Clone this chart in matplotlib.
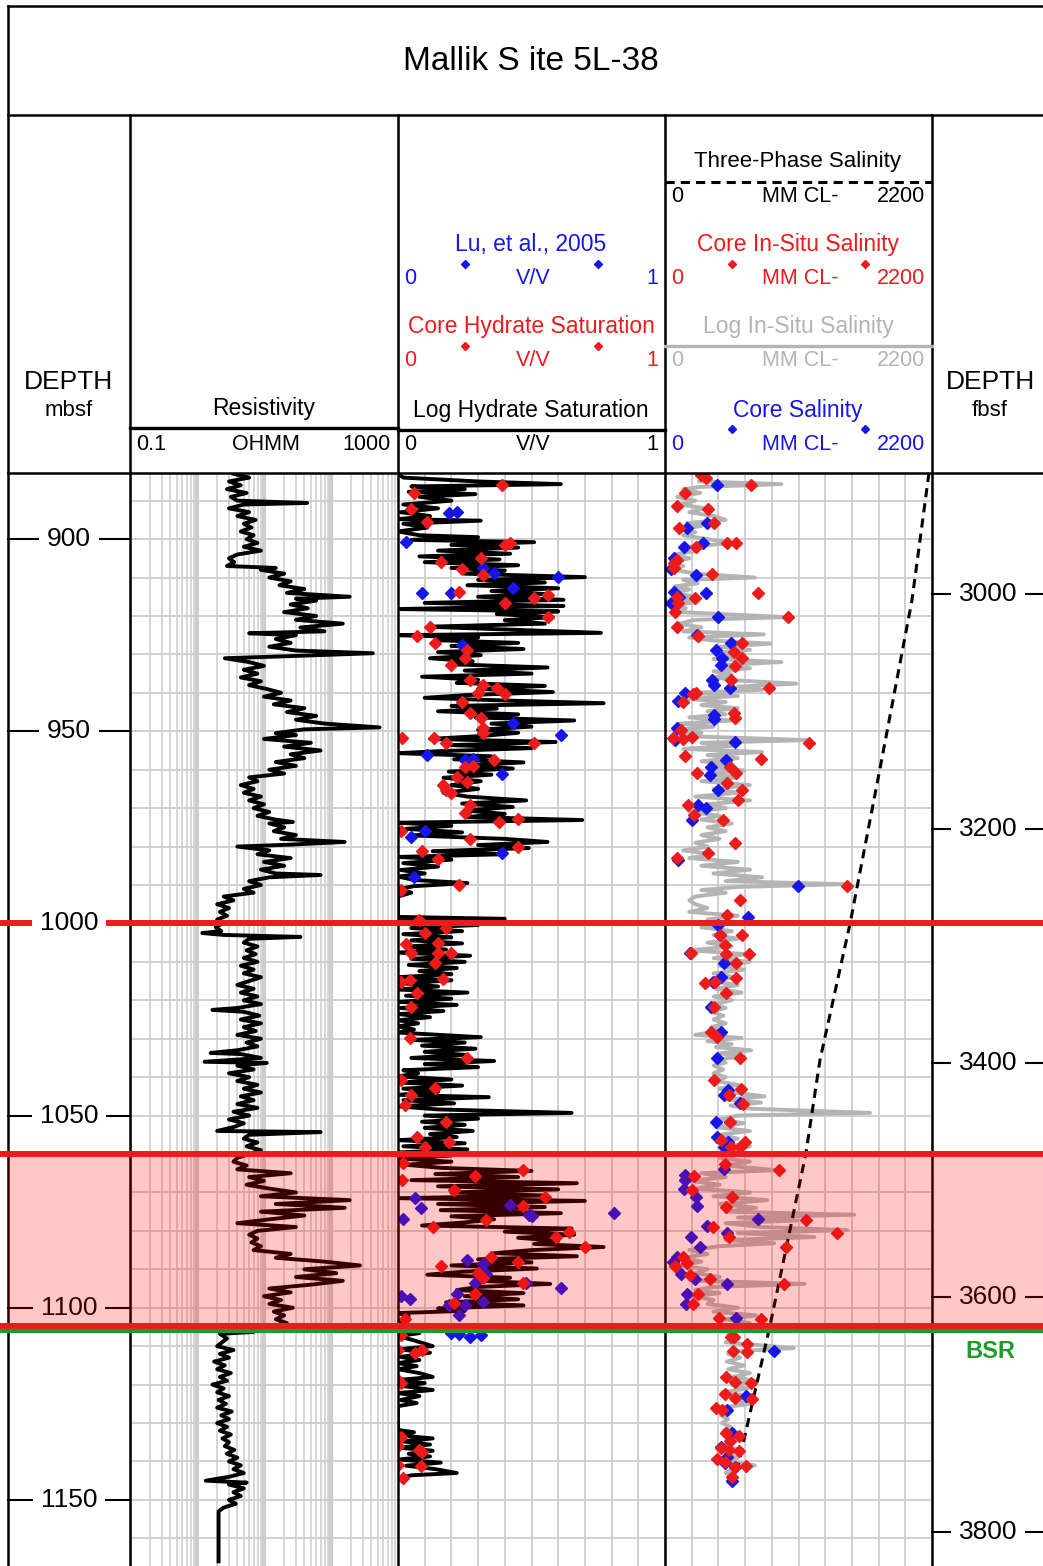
import numpy as np
import matplotlib.pyplot as plt

W, H = 1043, 1566
DATA_TOP = 473                       # px where the log tracks start
TOP_DEPTH, BOTTOM_DEPTH = 882.8, 1167.2

RED = '#ec1c1c'
BLUE = '#1616e8'
GRAY = '#b4b4b4'
GRID = '#cdcdcd'
GREEN = '#1f9a2c'

plt.rcParams['font.family'] = ['Liberation Sans', 'DejaVu Sans']

# ---- data (depth in mbsf) ----
resistivity = [
    (883, 3.5), (884, 6.0), (885, 3.0), (886, 4.5), (887, 2.8), (888, 5.5), (889, 3.2), (890, 4.0),
    (890.6, 44), (891, 5.0), (892, 3.0), (893, 6.0), (894, 4.0), (895, 7.5), (896, 5.0), (897, 6.5),
    (898, 4.5), (899, 7.0), (900, 5.5), (901, 8.0), (902, 5.0), (903, 9.0), (904, 4.0), (905, 3.0),
    (906, 3.6), (907, 2.8), (907.5, 15), (908, 9), (909, 20), (910, 12), (911, 25), (912, 17),
    (913, 40), (914, 22), (915, 190), (915.5, 30), (916, 60), (917, 25), (918, 45), (919, 20),
    (920, 60), (921, 30), (922, 150), (923, 35), (924, 80), (924.5, 6), (925, 30), (926, 15),
    (927, 25), (928, 12), (929, 30), (929.7, 420), (930.5, 20), (931, 2.6), (932, 6), (933, 10),
    (934, 5), (935, 8), (936, 4.5), (937, 9), (938, 6), (939, 11), (940, 18), (941, 10),
    (942, 25), (943, 14), (944, 40), (945, 22), (946, 60), (947, 30), (948, 80), (949, 530),
    (949.5, 40), (950.5, 15), (951, 30), (952, 10), (953, 50), (954, 20), (955, 70), (956, 25),
    (957, 40), (958, 15), (959, 30), (960, 12), (961, 20), (962, 6), (963, 8), (964, 4.5),
    (965, 7), (966, 5), (967, 9), (968, 6), (969, 10), (970, 7), (971, 12), (972, 8),
    (973, 15), (973.6, 27), (974, 12), (975, 20), (976, 14), (977, 30), (978, 18), (978.8, 160),
    (979.5, 25), (980, 4.0), (981, 12), (982, 8), (983, 25), (984, 10), (985, 20), (986, 9),
    (987, 15), (987.4, 70), (988, 12), (989, 6), (990, 9), (991, 5), (992, 7), (993, 2.5),
    (994, 3.5), (995, 2.0), (996, 3.0), (997, 2.2), (998, 2.8), (999, 2.0), (1000, 2.4), (1001, 1.9),
    (1002, 2.3), (1002.5, 1.2), (1003, 2.5), (1003.5, 35), (1004, 6), (1005, 5), (1006, 8), (1007, 5.5),
    (1008, 7.5), (1009, 5), (1010, 8), (1011, 4.5), (1012, 7), (1013, 5), (1014, 9), (1015, 6),
    (1016, 4), (1017, 7), (1018, 4.5), (1019, 8), (1020, 5), (1021, 9), (1022, 4), (1022.5, 1.7),
    (1023, 5), (1024, 8.5), (1025, 4.5), (1026, 9), (1027, 5), (1028, 7.5), (1029, 4), (1030, 9),
    (1031, 5.5), (1032, 8), (1033, 4), (1033.7, 1.6), (1034, 4.5), (1035, 9), (1036, 1.3), (1036.3, 11),
    (1037, 4), (1038, 7), (1039, 3), (1040, 6), (1041, 4), (1042, 8), (1043, 5), (1044, 9),
    (1045, 4.5), (1046, 7), (1047, 4), (1048, 8), (1049, 3.5), (1050, 6), (1051, 3), (1052, 5),
    (1053, 3.5), (1054, 2.0), (1054.3, 70), (1055, 6), (1056, 5), (1057, 8), (1058, 5.5), (1059, 9),
    (1060, 6), (1061, 4), (1062, 3.5), (1063, 5.5), (1064, 4), (1065, 25), (1066, 6), (1067, 10),
    (1068, 5.5), (1069, 12), (1070, 30), (1071, 9), (1072, 190), (1073, 15), (1074, 160), (1075, 9),
    (1076, 40), (1077, 12), (1078, 4.0), (1079, 30), (1080, 8), (1081, 6), (1082, 8), (1083, 6.5),
    (1084, 9), (1085, 7), (1086, 25), (1087, 15), (1088, 80), (1089, 270), (1090, 40), (1091, 120),
    (1092, 30), (1093, 150), (1094, 50), (1095, 12), (1096, 25), (1097, 10), (1098, 18), (1099, 12),
    (1100, 27), (1101, 14), (1102, 20), (1103, 15), (1104, 22), (1105, 12), (1106, 7), (1106.3, 7),
    (1106.8, 2.2), (1108, 2.8), (1110, 2.0), (1111, 3.5), (1112, 2.2), (1113, 3.0), (1114, 1.8), (1115, 2.6),
    (1116, 2.0), (1117, 3.2), (1118, 2.2), (1119, 2.8), (1120, 1.7), (1121, 2.5), (1122, 2.0), (1123, 3.0),
    (1124, 2.1), (1125, 2.7), (1126, 2.0), (1127, 3.3), (1128, 2.3), (1129, 3.0), (1130, 2.0), (1131, 2.8),
    (1132, 2.2), (1133, 3.2), (1134, 2.4), (1135, 3.0), (1136, 2.6), (1137, 3.6), (1138, 2.8), (1139, 4.0),
    (1140, 3.0), (1141, 4.5), (1142, 3.5), (1143, 5.0), (1144, 3.0), (1145, 1.35), (1145.5, 5.5), (1146, 3.0),
    (1147, 5.0), (1148, 3.5), (1149, 4.5), (1150, 3.0), (1151, 3.8), (1152, 2.5), (1153, 2.1), (1166, 2.1),
]

log_saturation = [
    (883, 0.0), (884, 0.02), (885, 0.3), (885.7, 0.61), (886.3, 0.05), (887, 0.25), (887.7, 0.04), (888.3, 0.29),
    (889, 0.08), (890, 0.2), (891, 0.02), (892, 0.15), (893, 0.01), (894, 0.12), (894.8, 0.0), (895.2, 0.31),
    (896, 0.02), (897, 0.11), (898, 0.0), (899, 0.08), (899.5, 0.3), (900.2, 0.05), (900.8, 0.51), (901.5, 0.2),
    (902.2, 0.45), (903, 0.15), (903.8, 0.42), (904.5, 0.08), (905.3, 0.38), (906, 0.1), (906.8, 0.45), (907.5, 0.2),
    (908.2, 0.4), (909, 0.25), (909.9, 0.70), (910.6, 0.3), (911.3, 0.55), (912, 0.26), (912.8, 0.6), (913.5, 0.35),
    (914.3, 0.55), (915, 0.3), (915.8, 0.62), (916.6, 0.1), (917.4, 0.62), (918.2, 0.0), (918.8, 0.6), (919.5, 0.37),
    (920.3, 0.58), (921.1, 0.4), (922, 0.55), (922.8, 0.11), (923.6, 0.43), (924.4, 0.76), (925, 0.0), (925.6, 0.3),
    (926.3, 0.14), (927, 0.45), (927.8, 0.2), (928.6, 0.47), (929.4, 0.15), (930.2, 0.31), (931, 0.12), (931.8, 0.28),
    (932.6, 0.21), (933.4, 0.56), (934.2, 0.25), (935, 0.5), (935.8, 0.09), (936.6, 0.3), (937.4, 0.22), (938.2, 0.55),
    (939, 0.3), (939.8, 0.58), (940.6, 0.25), (941.3, 0.1), (942, 0.4), (942.7, 0.77), (943.4, 0.2), (944.1, 0.37),
    (944.8, 0.15), (945.6, 0.45), (946.4, 0.29), (947.2, 0.66), (948, 0.35), (948.8, 0.5), (949.6, 0.3), (950.4, 0.45),
    (951.2, 0.32), (952, 0.12), (952.8, 0.59), (953.6, 0.2), (954.4, 0.5), (955.2, 0.15), (955.7, 0.0), (956.5, 0.35),
    (957.3, 0.21), (958.1, 0.47), (958.9, 0.25), (959.7, 0.43), (960.5, 0.19), (961.3, 0.35), (962.1, 0.17), (963, 0.31),
    (964, 0.2), (965, 0.3), (966, 0.17), (967, 0.26), (968, 0.48), (968.8, 0.24), (969.7, 0.43), (970.6, 0.25),
    (971.5, 0.4), (972.3, 0.26), (973.1, 0.69), (973.8, 0.0), (974.6, 0.2), (975.4, 0.03), (976.3, 0.24), (977.1, 0.05),
    (978, 0.4), (978.8, 0.56), (979.6, 0.3), (980.4, 0.49), (981.2, 0.13), (982, 0.4), (982.7, 0.0), (983.4, 0.2),
    (984.3, 0.02), (985.2, 0.15), (986.1, 0.01), (987, 0.1), (987.8, 0.0), (988.7, 0.06), (989.5, 0.26), (990.3, 0.06),
    (991.1, 0.0), (992, 0.05), (993, 0.0), (998.3, 0.0), (998.8, 0.4), (999.4, 0.0), (1000.4, 0.3), (1001.2, 0.05),
    (1002, 0.24), (1002.8, 0.02), (1003.6, 0.2), (1004.4, 0.05), (1005.2, 0.24), (1006, 0.03), (1006.8, 0.18), (1007.6, 0.0),
    (1008.4, 0.27), (1009.2, 0.05), (1010, 0.25), (1010.8, 0.04), (1011.6, 0.22), (1012.4, 0.08), (1013.2, 0.2), (1014, 0.0),
    (1014.8, 0.2), (1015.6, 0.02), (1016.4, 0.15), (1017.2, 0.0), (1018, 0.26), (1018.8, 0.03), (1019.6, 0.2), (1020.4, 0.0),
    (1021.2, 0.22), (1022, 0.01), (1022.8, 0.17), (1023.6, 0.0), (1024.4, 0.12), (1025.2, 0.0), (1026, 0.075), (1026.8, 0.0),
    (1027.6, 0.06), (1028.4, 0.0), (1029.6, 0.31), (1030.3, 0.05), (1031, 0.25), (1031.8, 0.09), (1032.6, 0.29), (1033.4, 0.1),
    (1034.2, 0.25), (1035, 0.05), (1035.8, 0.36), (1036.6, 0.1), (1037.4, 0.3), (1038.2, 0.02), (1039, 0.075), (1039.8, 0.0),
    (1040.6, 0.2), (1041.4, 0.0), (1042.2, 0.24), (1043, 0.02), (1043.8, 0.15), (1044.6, 0.0), (1045.2, 0.34), (1046, 0.02),
    (1046.8, 0.21), (1047.6, 0.0), (1048.4, 0.15), (1049.3, 0.65), (1050, 0.1), (1050.8, 0.3), (1051.6, 0.09), (1052.4, 0.25),
    (1053.2, 0.1), (1054, 0.28), (1054.8, 0.12), (1055.6, 0.22), (1056.4, 0.0), (1057.2, 0.25), (1058, 0.02), (1058.8, 0.26),
    (1059.6, 0.0), (1060.4, 0.2), (1061.2, 0.01), (1062, 0.2), (1062.8, 0.03), (1063.6, 0.16), (1064.4, 0.5), (1065.2, 0.14),
    (1066, 0.45), (1066.8, 0.05), (1067.6, 0.67), (1068.4, 0.15), (1069.2, 0.6), (1070, 0.2), (1070.8, 0.55), (1071.5, 0.0),
    (1072.2, 0.7), (1073, 0.15), (1073.8, 0.55), (1074.6, 0.16), (1075.4, 0.61), (1076.2, 0.2), (1077, 0.36), (1077.8, 0.25),
    (1078.6, 0.09), (1079.4, 0.65), (1080.2, 0.4), (1081, 0.66), (1081.8, 0.45), (1082.6, 0.6), (1083.4, 0.51), (1084.2, 0.77),
    (1085, 0.5), (1085.8, 0.36), (1086.6, 0.67), (1087.4, 0.3), (1088.2, 0.5), (1089, 0.2), (1089.8, 0.52), (1090.6, 0.25),
    (1091.4, 0.11), (1092.2, 0.42), (1093, 0.31), (1093.8, 0.57), (1094.6, 0.3), (1095.4, 0.22), (1096.2, 0.47), (1097, 0.25),
    (1097.8, 0.45), (1098.6, 0.18), (1099.4, 0.47), (1100.2, 0.15), (1100.8, 0.25), (1101.4, 0.0), (1102.2, 0.04), (1103.5, 0.0),
    (1104.5, 0.03), (1105.5, 0.0), (1106.6, 0.08), (1107.4, 0.0), (1108.5, 0.06), (1110, 0.13), (1110.8, 0.0), (1111.7, 0.12),
    (1112.8, 0.01), (1113.6, 0.08), (1114.4, 0.0), (1115.2, 0.07), (1116, 0.0), (1117, 0.08), (1118, 0.13), (1118.8, 0.0),
    (1119.6, 0.1), (1120.4, 0.02), (1121.4, 0.13), (1122.2, 0.0), (1123, 0.08), (1124, 0.01), (1124.8, 0.07), (1125.6, 0.0),
    (1131.8, 0.0), (1132.4, 0.06), (1133.2, 0.0), (1134, 0.13), (1134.8, 0.02), (1135.6, 0.12), (1136.4, 0.0), (1137.2, 0.13),
    (1138, 0.04), (1138.7, 0.12), (1139.5, 0.0), (1140.3, 0.16), (1141.1, 0.03), (1142, 0.14), (1143, 0.22), (1143.6, 0.05),
    (1144.5, 0.0),
]

core_saturation = [
    (886, 0.39), (888, 0.06), (892.2, 0.05), (895.6, 0.11), (901.6, 0.40), (901, 0.42), (905, 0.31), (906, 0.16),
    (907.8, 0.24), (909.4, 0.32), (913.8, 0.23), (914.6, 0.56), (915.3, 0.51), (916.6, 0.40), (920.3, 0.56), (922.9, 0.12),
    (925.2, 0.07), (927, 0.14), (928.9, 0.26), (931, 0.25), (932.8, 0.2), (936.7, 0.27), (938, 0.32), (938.8, 0.37),
    (940, 0.3), (940.3, 0.40), (942.4, 0.24), (945.3, 0.27), (946.6, 0.31), (949.2, 0.32), (950.5, 0.32), (951.8, 0.015),
    (951.8, 0.135), (953, 0.18), (953, 0.51), (957.5, 0.36), (959, 0.28), (959.3, 0.25), (962, 0.22), (963.2, 0.26),
    (964, 0.17), (965.3, 0.18), (966, 0.2), (969.2, 0.27), (971.3, 0.25), (973.6, 0.38), (972.8, 0.45), (976, 0.01),
    (978, 0.27), (980.1, 0.45), (981.2, 0.09), (983.2, 0.15), (990, 0.23), (991.3, 0.01), (999.1, 0.08), (1001.2, 0.18),
    (1002.5, 0.10), (1005.1, 0.15), (1005.4, 0.03), (1007.7, 0.05), (1007.7, 0.15), (1007.7, 0.2), (1010.3, 0.14), (1014.7, 0.044),
    (1014.5, 0.17), (1015.2, 0.01), (1018.1, 0.07), (1021.7, 0.05), (1029.8, 0.044), (1035, 0.26), (1040.7, 0.01), (1042.8, 0.14),
    (1044.6, 0.05), (1047.2, 0.025), (1051.7, 0.18), (1055.6, 0.07), (1056.9, 0.19), (1058.2, 0.1), (1062.3, 0.02), (1064.2, 0.47),
    (1065.7, 0.29), (1066.8, 0.015), (1069.4, 0.21), (1071.2, 0.55), (1073.6, 0.47), (1077.2, 0.33), (1079, 0.13), (1080.3, 0.64),
    (1081.6, 0.59), (1084.2, 0.70), (1086.8, 0.35), (1088.1, 0.45), (1089.1, 0.16), (1090.9, 0.30), (1092.2, 0.32), (1093.5, 0.47),
    (1096.3, 0.29), (1098.8, 0.21), (1102.9, 0.025), (1107, 0.01), (1111, 0.09), (1111.7, 0.065), (1111, 0.0), (1118.8, 0.0),
    (1119.6, 0.01), (1133.6, 0.01), (1136, 0.0), (1137, 0.08), (1137.5, 0.09), (1140.9, 0.0), (1141.2, 0.086), (1144.3, 0.02),
]

lu_saturation = [
    (893.2, 0.19), (893, 0.22), (900.8, 0.03), (907.5, 0.32), (908.8, 0.36), (909.9, 0.60), (912.7, 0.43), (914, 0.09),
    (914, 0.20), (927.6, 0.24), (947.9, 0.43), (951, 0.61), (956.2, 0.11), (957.2, 0.28), (957.5, 0.25), (961.1, 0.39),
    (976, 0.10), (977.5, 0.05), (981.7, 0.39), (987.9, 0.06), (1071.4, 0.065), (1074, 0.085), (1073.3, 0.42), (1075.8, 0.49),
    (1076.1, 0.50), (1075.3, 0.81), (1076.8, 0.02), (1087.6, 0.26), (1088.6, 0.32), (1091.2, 0.33), (1093.5, 0.29), (1093.5, 0.48),
    (1094.8, 0.61), (1096.3, 0.22), (1096.9, 0.01), (1097.8, 0.044), (1098.6, 0.32), (1099.4, 0.19), (1099.4, 0.25), (1101.8, 0.23),
    (1106.9, 0.23), (1107.6, 0.27), (1107, 0.31), (1106.6, 0.2),
]

log_insitu_salinity = [
    (883, 300), (884, 350), (885, 280), (885.7, 960), (886.4, 300), (887, 150), (888, 290), (889, 100),
    (890, 250), (891, 130), (892, 330), (893, 200), (894, 400), (895, 500), (895.8, 180), (896.6, 300),
    (897.4, 120), (898.2, 250), (899, 150), (900, 350), (901, 560), (902, 200), (903, 270), (904, 80),
    (905, 200), (906, 50), (907, 150), (908, 80), (909, 250), (910, 740), (910.6, 150), (911.5, 270),
    (912.3, 80), (913.1, 200), (914, 60), (914.8, 220), (915.6, 100), (916.4, 250), (917.2, 80), (918, 170),
    (919, 120), (920.3, 1000), (921, 250), (922, 120), (923, 300), (924, 150), (924.8, 815), (925.6, 200),
    (926.4, 400), (927.2, 870), (928, 450), (928.8, 700), (929.6, 420), (930.4, 650), (931.2, 400), (932, 960),
    (932.8, 450), (933.6, 700), (934.4, 400), (935.2, 550), (936, 400), (936.8, 600), (937.6, 1080), (938.4, 600),
    (939.2, 800), (940, 250), (940.8, 600), (941.6, 200), (942.4, 500), (943.2, 300), (944, 600), (944.8, 350),
    (945.6, 500), (946.4, 200), (947.2, 550), (948, 120), (948.8, 400), (949.6, 100), (950.4, 300), (951.2, 100),
    (952.3, 1170), (953, 300), (953.8, 550), (954.6, 150), (955.4, 800), (956.2, 350), (957, 600), (957.8, 300),
    (958.6, 550), (959.4, 400), (960.2, 650), (961, 350), (962, 600), (963, 300), (964, 700), (965, 400),
    (966, 600), (967, 250), (968, 700), (969, 350), (970, 500), (971, 200), (972, 450), (973, 300),
    (974, 550), (975, 350), (976, 500), (977, 300), (978, 450), (979, 250), (980, 350), (981, 150),
    (982, 400), (983, 200), (984, 600), (985, 300), (986, 700), (987, 400), (988, 800), (989, 500),
    (989.8, 1480), (990.5, 600), (991.3, 300), (992, 500), (993, 250), (994, 200), (995, 250), (996, 350),
    (997, 200), (998, 600), (999, 350), (1000, 450), (1001, 300), (1002, 550), (1003, 400), (1004, 600),
    (1005, 350), (1006, 550), (1007, 200), (1008, 680), (1009, 400), (1010, 700), (1011, 450), (1012, 650),
    (1013, 400), (1014, 570), (1015, 380), (1016, 600), (1017, 420), (1018, 630), (1019, 400), (1020, 550),
    (1021, 400), (1022, 500), (1023, 380), (1024, 480), (1025, 400), (1026, 500), (1027, 380), (1028, 450),
    (1029, 250), (1029.8, 630), (1030.6, 350), (1031.4, 550), (1032.2, 420), (1033, 710), (1033.8, 450), (1034.6, 650),
    (1035.4, 420), (1036.2, 500), (1037, 400), (1038, 480), (1039, 400), (1040, 500), (1041, 420), (1042, 600),
    (1043, 450), (1044, 560), (1045, 820), (1045.8, 500), (1046.6, 790), (1047.4, 540), (1048.2, 700), (1049.3, 1690),
    (1050, 600), (1051, 450), (1052, 650), (1053, 420), (1054, 700), (1055, 450), (1056, 600), (1057, 430),
    (1058, 700), (1059, 540), (1060, 650), (1061, 450), (1062, 700), (1063, 500), (1064.2, 920), (1065, 300),
    (1066, 500), (1067, 210), (1068, 450), (1069, 250), (1070, 700), (1071, 400), (1072, 840), (1073, 450),
    (1074, 750), (1075, 500), (1075.8, 1560), (1076.5, 600), (1077.3, 1090), (1078, 500), (1079, 800), (1079.8, 1500),
    (1080.6, 600), (1081.6, 1230), (1082.4, 500), (1083.2, 900), (1084, 450), (1085, 200), (1086, 350), (1087, 150),
    (1088, 300), (1089, 120), (1090, 350), (1091, 250), (1092, 450), (1093, 300), (1093.8, 1150), (1094.6, 400),
    (1095.4, 250), (1096.2, 450), (1097, 230), (1098, 400), (1099, 350), (1100, 600), (1101, 400), (1102, 750),
    (1103, 500), (1104, 700), (1105, 550), (1106, 600), (1107, 520), (1108, 600), (1109, 500), (1110.5, 1060),
    (1111.3, 600), (1112, 520), (1113, 620), (1114, 510), (1115, 650), (1116, 520), (1117, 700), (1118, 560),
    (1119, 740), (1120, 550), (1121, 680), (1122, 470), (1123, 720), (1124, 550), (1125, 700), (1126, 470),
    (1127, 500), (1128, 460), (1129, 520), (1130, 470), (1131, 540), (1132, 480), (1133, 600), (1134, 520),
    (1135, 560), (1136, 480), (1137, 620), (1138, 500), (1139, 600), (1140, 520), (1141, 740), (1142, 550),
    (1143, 500), (1144, 560), (1145, 520),
]

core_insitu_salinity = [
    (883.4, 300), (884, 340), (886, 710), (888, 165), (891.4, 100), (892.2, 355), (895.8, 400), (897.1, 115),
    (901, 510), (901, 585), (902, 255), (905.5, 100), (906.2, 75), (907.5, 75), (909.1, 385), (914, 765),
    (915, 100), (915.3, 245), (916.6, 110), (919, 80), (920.3, 1015), (922.9, 100), (925.2, 270), (927, 635),
    (929.4, 570), (931, 635), (933, 575), (936.7, 545), (938.8, 855), (940, 255), (940.3, 230), (942.4, 150),
    (945.3, 570), (946.6, 575), (949.7, 130), (951.8, 65), (952, 150), (951.5, 220), (953, 1185), (956.5, 165),
    (957.2, 790), (959.3, 535), (960.9, 264), (960.9, 585), (963.5, 510), (965.3, 635), (967.9, 600), (969.2, 190),
    (971.8, 240), (973.1, 480), (979.1, 575), (981.7, 355), (983, 100), (990.3, 1500), (993.9, 620), (997.8, 510),
    (1003, 455), (1003, 635), (1005.6, 495), (1007.7, 215), (1008, 500), (1008, 690), (1010.3, 585), (1014.2, 585),
    (1015.2, 410), (1015.5, 330), (1018.1, 500), (1021.7, 400), (1028.2, 380), (1029.6, 430), (1035, 620), (1040.7, 400),
    (1043, 625), (1044.6, 525), (1047, 640), (1051.7, 535), (1056.3, 460), (1056.9, 660), (1058.2, 545), (1058.2, 620),
    (1062.6, 495), (1064.2, 940), (1065.7, 240), (1069.4, 220), (1071.2, 550), (1073.8, 500), (1077.2, 1160), (1079, 395),
    (1080.5, 1415), (1081.6, 525), (1084.2, 995), (1086.8, 150), (1088.3, 180), (1089.1, 80), (1091.5, 205), (1092.5, 370),
    (1093.8, 980), (1096.3, 270), (1098.9, 230), (1102.6, 445), (1102.9, 790), (1107.6, 545), (1107.6, 570), (1109.4, 675),
    (1111.2, 560), (1111.5, 675), (1118, 500), (1119.3, 575), (1119.6, 710), (1122.5, 495), (1123.5, 575), (1123.8, 715),
    (1126.1, 420), (1126.6, 470), (1132.6, 500), (1133.4, 610), (1134.7, 535), (1136.5, 460), (1137, 525), (1137.3, 610),
    (1139.3, 430), (1140.1, 495), (1141.4, 575), (1141.2, 670), (1144, 550),
]

core_salinity = [
    (882.8, 315), (886, 430), (895.8, 345), (897.1, 180), (901, 315), (902, 155), (905, 75), (907.8, 50),
    (909.4, 255), (914, 340), (913.8, 75), (915, 115), (916.6, 50), (920.3, 435), (925, 265), (927, 545),
    (928.9, 420), (931, 470), (932.8, 460), (936.7, 385), (938, 400), (938.8, 535), (940, 165), (942.1, 110),
    (945.8, 400), (946.8, 400), (949.2, 100), (952.3, 80), (952.8, 575), (957.5, 500), (959.3, 380), (961.4, 370),
    (965.3, 435), (969.2, 270), (970, 340), (973.1, 220), (983.5, 105), (990.3, 1095), (998.3, 685), (1000.4, 435),
    (1003, 455), (1007.7, 210), (1010.3, 485), (1014, 460), (1015.2, 395), (1021.7, 380), (1028.2, 460), (1035, 430),
    (1043.3, 520), (1044.6, 485), (1046.7, 620), (1051.7, 420), (1055.6, 430), (1056.9, 520), (1058.2, 485), (1064, 485),
    (1065.5, 165), (1066.8, 165), (1069.1, 155), (1071.2, 255), (1073.6, 265), (1076.9, 765), (1078.8, 345), (1080.5, 510),
    (1081.6, 215), (1084.2, 290), (1086.8, 100), (1088, 65), (1091.2, 130), (1092.5, 245), (1093.8, 510), (1096.3, 180),
    (1098.9, 175), (1102.6, 585), (1111.2, 900), (1122.9, 670), (1126.6, 510), (1132.6, 550), (1136.2, 460), (1138.8, 510),
    (1140.3, 495), (1141.4, 575), (1145, 550),
]

three_phase_salinity = [
    (882.8, 2175), (915.9, 2035), (958.3, 1780), (1000, 1525), (1035.5, 1277), (1060, 1160),
    (1104.7, 865), (1141.4, 600), (1145, 575),
]

depth_ticks_m = [900, 950, 1000, 1050, 1100, 1150]
depth_ticks_ft = [3000, 3200, 3400, 3600, 3800]
red_marker_depths = [1000, 1060, 1104.7]
hydrate_zone = (1060, 1104.7)
bsr_depth = 1106.0


def split(pairs):
    d, v = zip(*pairs)
    return np.array(d), np.array(v)


fig = plt.figure(figsize=(W / 100, H / 100), dpi=100)
data_h = (H - DATA_TOP) / H


def make_track(x0, x1, xlim, log=False):
    ax = fig.add_axes([x0 / W, 0, (x1 - x0) / W, data_h], zorder=1)
    if log:
        ax.set_xscale('log')
    ax.set_xlim(*xlim)
    ax.set_ylim(BOTTOM_DEPTH, TOP_DEPTH)
    for d in range(890, 1170, 10):
        ax.axhline(d, color=GRID, lw=1.3, zorder=0)
    if log:
        for dec in [0.1, 1, 10, 100]:
            for k in range(1, 10):
                ax.axvline(k * dec, color=GRID, lw=3.0 if k == 1 else 1.1, zorder=0)
    else:
        for v in np.linspace(xlim[0], xlim[1], 11):
            ax.axvline(v, color=GRID, lw=1.3, zorder=0)
    ax.set_xticks([])
    ax.set_yticks([])
    ax.minorticks_off()
    for s in ax.spines.values():
        s.set_visible(False)
    return ax


ax_res = make_track(130, 398, (0.1, 1000), log=True)
ax_sat = make_track(398, 665, (0, 1))
ax_sal = make_track(665, 932, (0, 2200))

d, v = split(resistivity)
ax_res.plot(v, d, color='k', lw=2.8)

d, v = split(log_saturation)
ax_sat.plot(v, d, color='k', lw=2.8)
d, v = split(lu_saturation)
ax_sat.plot(v, d, 'D', ms=6.5, color=BLUE)
d, v = split(core_saturation)
ax_sat.plot(v, d, 'D', ms=6.5, color=RED)

d, v = split(log_insitu_salinity)
ax_sal.plot(v, d, color=GRAY, lw=2.8)
d, v = split(three_phase_salinity)
ax_sal.plot(v, d, color='k', lw=2.2, dashes=(3, 2))
d, v = split(core_salinity)
ax_sal.plot(v, d, 'D', ms=6.5, color=BLUE)
d, v = split(core_insitu_salinity)
ax_sal.plot(v, d, 'D', ms=6.5, color=RED)

# ---- frame and header (figure pixel coordinates) ----
fr = fig.add_axes([0, 0, 1, 1], zorder=4)
fr.set_xlim(0, W)
fr.set_ylim(H, 0)
fr.axis('off')
fr.patch.set_alpha(0)

LW = 1.8
for y in [6, 115, DATA_TOP]:
    fr.plot([8, W], [y, y], color='k', lw=LW)
fr.plot([8, 8], [6, H], color='k', lw=LW)
for x in [130, 398, 665, 932]:
    fr.plot([x, x], [115, H], color='k', lw=LW)

fr.text(531, 62, 'Mallik S ite 5L-38', fontsize=24, ha='center', va='center')

for cx, unit in [(69, 'mbsf'), (990, 'fbsf')]:
    fr.text(cx, 382, 'DEPTH', fontsize=19, ha='center', va='center')
    fr.text(cx, 410, unit, fontsize=16, ha='center', va='center')


def scale_row(x0, x1, y, lo, unit, hi, color):
    fr.text(x0 + 6, y, lo, fontsize=15.5, color=color, ha='left', va='center')
    fr.text((x0 + x1) / 2 + 2, y, unit, fontsize=15.5, color=color, ha='center', va='center')
    fr.text(x1 - 7, y, hi, fontsize=15.5, color=color, ha='right', va='center')


def diamonds(x0, x1, y, color):
    w = x1 - x0
    fr.plot([x0 + 0.25 * w, x0 + 0.75 * w], [y, y], 'D', ms=4, color=color)


# resistivity header
fr.text(264, 409, 'Resistivity', fontsize=16.5, ha='center', va='center')
fr.plot([130, 398], [428, 428], color='k', lw=2.4)
scale_row(130, 398, 444, '0.1', 'OHMM', '1000', 'k')

# saturation header
fr.text(531, 245, 'Lu, et al., 2005', fontsize=16.5, color=BLUE, ha='center', va='center')
diamonds(398, 665, 264, BLUE)
scale_row(398, 665, 278, '0', 'V/V', '1', BLUE)
fr.text(531, 327, 'Core Hydrate Saturation', fontsize=16.5, color=RED, ha='center', va='center')
diamonds(398, 665, 346, RED)
scale_row(398, 665, 361, '0', 'V/V', '1', RED)
fr.text(531, 411, 'Log Hydrate Saturation', fontsize=16.5, ha='center', va='center')
fr.plot([398, 665], [430, 430], color='k', lw=2.4)
scale_row(398, 665, 444, '0', 'V/V', '1', 'k')

# salinity header
fr.text(798, 161, 'Three-Phase Salinity', fontsize=16, ha='center', va='center')
fr.plot([665, 932], [182, 182], color='k', lw=2.2, dashes=(3, 2))
scale_row(665, 932, 196, '0', 'MM CL-', '2200', 'k')
fr.text(798, 244, 'Core In-Situ Salinity', fontsize=16.5, color=RED, ha='center', va='center')
diamonds(665, 932, 264, RED)
scale_row(665, 932, 278, '0', 'MM CL-', '2200', RED)
fr.text(798, 326, 'Log In-Situ Salinity', fontsize=16.5, color=GRAY, ha='center', va='center')
fr.plot([665, 932], [346, 346], color=GRAY, lw=2.4)
scale_row(665, 932, 361, '0', 'MM CL-', '2200', GRAY)
fr.text(798, 411, 'Core Salinity', fontsize=16.5, color=BLUE, ha='center', va='center')
diamonds(665, 932, 429, BLUE)
scale_row(665, 932, 444, '0', 'MM CL-', '2200', BLUE)

# ---- depth overlay: ticks, zone markers ----
ov = fig.add_axes([0, 0, 1, data_h], zorder=5)
ov.set_xlim(0, W)
ov.set_ylim(BOTTOM_DEPTH, TOP_DEPTH)
ov.axis('off')
ov.patch.set_alpha(0)

box = dict(boxstyle='square,pad=0.3', fc='white', ec='none')
for dm in depth_ticks_m:
    ov.plot([8, 130], [dm, dm], color='k', lw=1.5, zorder=1)
    ov.text(69, dm, str(dm), fontsize=19, ha='center', va='center', bbox=box, zorder=3)
for ft in depth_ticks_ft:
    dm = ft * 0.3048
    ov.plot([932, W], [dm, dm], color='k', lw=1.5, zorder=1)
    ov.text(988, dm, str(ft), fontsize=19, ha='center', va='center', bbox=box, zorder=3)

ov.axhspan(*hydrate_zone, xmin=8 / W, xmax=1, color='red', alpha=0.22, lw=0, zorder=4)
for dm in red_marker_depths:
    ov.axhline(dm, color=RED, lw=4.3, zorder=2 if dm == 1000 else 6)
ov.axhline(bsr_depth, color=GREEN, lw=3, zorder=5)
ov.text(990, bsr_depth + 5.5, 'BSR', fontsize=17, fontweight='bold', color=GREEN,
        ha='center', va='center', zorder=6)

fig.savefig('out.png', dpi=100)
